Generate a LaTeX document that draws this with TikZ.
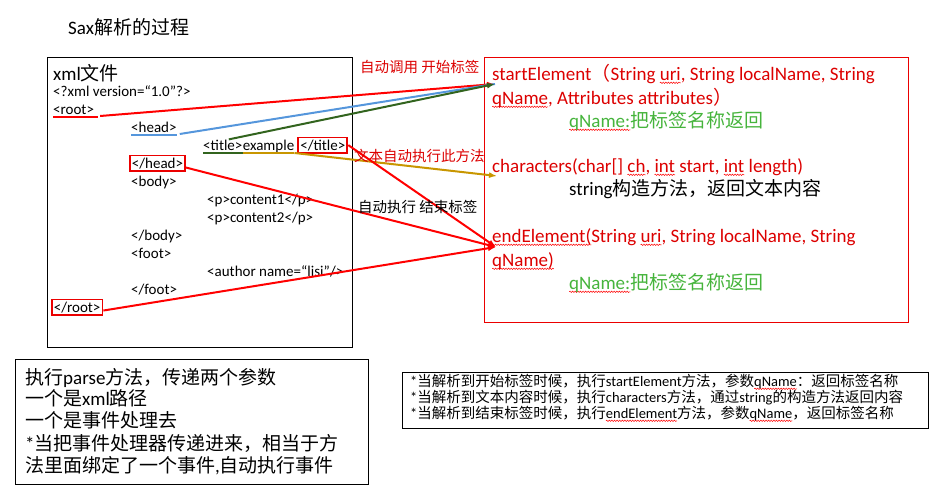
\documentclass[tikz,border=0pt]{standalone}
\usepackage{fontspec}
\setmainfont{Carlito}
\newfontfamily\cjk{Noto Sans CJK SC}
\usetikzlibrary{arrows.meta,positioning,decorations.pathmorphing}
\definecolor{textred}{RGB}{220,0,0}
\definecolor{boxred}{RGB}{235,0,0}
\definecolor{textgreen}{RGB}{70,180,60}
\definecolor{lineblue}{RGB}{85,150,220}
\definecolor{linegreen}{RGB}{50,100,30}
\definecolor{linegold}{RGB}{200,150,0}
\newcommand{\zh}[1]{{\cjk #1}}
\newsavebox{\spellbox}
% red wavy line under a word
\newcommand{\spell}[1]{\sbox{\spellbox}{#1}\rlap{\tikz[overlay]\draw[spellline] (0pt,-2.8pt) -- (\the\wd\spellbox,-2.8pt);}\usebox{\spellbox}}
\tikzset{spellline/.style={red, line width=0.5pt, decorate,
    decoration={snake, amplitude=0.7pt, segment length=2.6pt}}}

\begin{document}
\begin{tikzpicture}[x=1pt,y=-1pt,
    code/.style={anchor=base west, inner sep=0pt, font=\fontsize{15}{17}\selectfont},
    method/.style={anchor=base west, inner sep=0pt, text=textred, font=\fontsize{19}{22}\selectfont},
    note/.style={anchor=base west, inner sep=0pt, font=\fontsize{19}{22}\selectfont},
    hint/.style={anchor=base west, inner sep=0pt, font=\fontsize{14.5}{16}\selectfont},
    lbl/.style={anchor=base west, inner sep=0pt, font=\cjk\fontsize{14.5}{16}\selectfont},
    tagbox/.style={draw=boxred, line width=1.8pt, inner sep=2pt},
    link/.style={line width=2pt},
    tip/.style={-{Latex[length=8pt,width=6pt]}}]
  \useasboundingbox (0,0) rectangle (938,498);

  \node[note] (title) at (68,34) {Sax\zh{解析的过程}};

  % the xml file
  \draw (47,57) rectangle (352,347);
  \node[note] (xmlfile) at (53,80) {xml\zh{文件}};
  \node[code] (decl) at (53,96) {<?xml version=“1.0”?>};
  \node[code] (root) at (53,114) {<root>};
  \node[code] (head) at (131,132) {<head>};
  \node[code] (topen) at (203,150) {<title>};
  \node[code] (ttext) at (topen.base east) {example};
  \node[code, tagbox] (tclose) at ([xshift=3pt]ttext.base east) {</title>};
  \node[code, tagbox] (hclose) at (129,168) {</head>};
  \node[code] (body) at (131,186) {<body>};
  \node[code] (p1) at (207,204) {<p>content1</p>};
  \node[code] (p2) at (207,222) {<p>content2</p>};
  \node[code] (bodyend) at (131,240) {</body>};
  \node[code] (foot) at (131,258) {<foot>};
  \node[code] (author) at (207,276) {<author name=“lisi”/>};
  \node[code] (footend) at (131,294) {</foot>};
  \node[code, tagbox] (rclose) at (51,312) {</root>};

  % the handler methods
  \draw[boxred, line width=1pt] (484,57) rectangle (908,322);
  \node[method] (se1) at (492,80) {startElement\zh{（}String \spell{uri}, String localName, String};
  \node[method] (se2) at (492,104) {\spell{qName}, Attributes attributes\zh{）}};
  \node[method, text=textgreen] (seq) at (569,127) {\spell{qName:}\zh{把标签名称返回}};
  \node[method] (ch1) at (492,172) {characters(char[] \spell{ch}, \spell{int} start, \spell{int} length)};
  \node[method, text=black] (ch2) at (569,195) {string\zh{构造方法，返回文本内容}};
  \node[method] (ee1) at (492,242) {\spell{endElement(}String \spell{uri}, String localName, String};
  \node[method] (ee2) at (492,266) {\spell{qName)}};
  \node[method, text=textgreen] (eeq) at (569,289) {\spell{qName:}\zh{把标签名称返回}};

  \coordinate (sein) at (495,84);
  \coordinate (chin) at (497,176);
  \coordinate (eein) at (496,247);

  % start tags
  \draw[link, red] ([yshift=-3pt]root.base west) -- ([xshift=4pt,yshift=-3pt]root.base east);
  \draw[link, red, tip] ([xshift=6pt,yshift=-2pt]root.base east) -- (sein);
  \draw[link, lineblue] ([yshift=-3pt]head.base west) -- ([yshift=-3pt]head.base east);
  \draw[link, lineblue] ([xshift=3pt,yshift=-2pt]head.base east) -- (sein);
  \draw[link, linegreen] ([yshift=-3pt]topen.base west) -- ([yshift=-3pt]topen.base east);
  \draw[link, linegreen, tip] ([xshift=6pt]topen.north) -- (sein);
  % text
  \draw[link, linegold] ([yshift=-3pt]ttext.base west) -- ([yshift=-3pt]ttext.base east);
  \draw[link, linegold, tip] ([yshift=-3pt]ttext.base east) -- (chin);
  % end tags
  \draw[link, red, tip] (tclose.east) -- (eein);
  \draw[link, red, tip] ([yshift=4pt]hclose.south east) -- (eein);
  \draw[link, red, tip] ([yshift=5pt]rclose.south east) -- (eein);

  \node[lbl, text=textred] (startlbl) at (360,72) {自动调用 开始标签};
  \node[lbl, text=textred] (charlbl) at (354,161) {文本自动执行此方法};
  \node[lbl] (endlbl) at (358,212) {自动执行 结束标签};

  % parse notes
  \draw (15,359) rectangle (368,484);
  \node[note] (parse1) at (25,384) {\zh{执行}parse\zh{方法，传递两个参数}};
  \node[note] (parse2) at (25,405) {\zh{一个是}xml\zh{路径}};
  \node[note] (parse3) at (25,427) {\zh{一个是事件处理去}};
  \node[note] (parse4) at (25,450) {*\zh{当把事件处理器传递进来，相当于方}};
  \node[note] (parse5) at (25,472) {\zh{法里面绑定了一个事件},\zh{自动执行事件}};

  % summary
  \draw (402,372) rectangle (928,428);
  \node[hint] (sum1) at (410,386) {*\zh{当解析到开始标签时候，执行}startElement\zh{方法，参数}\spell{qName}\zh{：返回标签名称}};
  \node[hint] (sum2) at (410,402) {*\zh{当解析到文本内容时候，执行}characters\zh{方法，通过}string\zh{的构造方法返回内容}};
  \node[hint] (sum3) at (410,418) {*\zh{当解析到结束标签时候，执行}\spell{endElement}\zh{方法，参数}\spell{qName}\zh{，返回标签名称}};
\end{tikzpicture}
\end{document}
